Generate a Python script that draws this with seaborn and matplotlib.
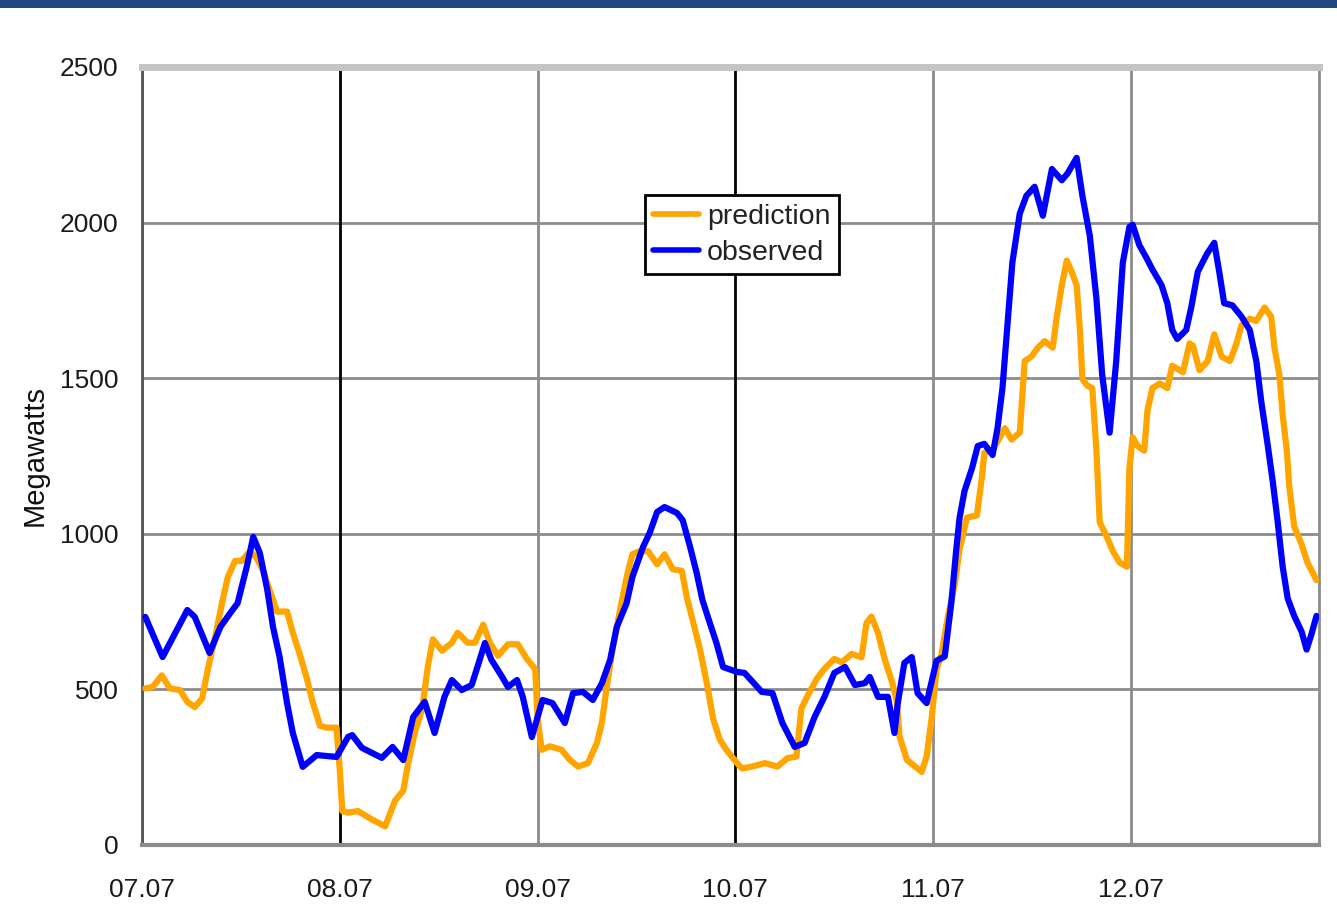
import pandas as pd
import matplotlib.pyplot as plt
import seaborn as sns
from matplotlib.patches import Rectangle

# --- data (hours since 07.07 00:00, megawatts) ---
pred_hours = [0.4, 1.3, 2.4, 3.4, 4.6, 5.5, 6.4, 7.3, 8.0, 8.9, 9.7, 10.4, 11.3, 12.1, 13.1, 13.9,
              14.7, 15.5, 16.4, 17.6, 18.3, 19.2, 20.0, 20.7, 21.6, 22.4, 23.6, 24.0, 24.3, 25.0,
              26.2, 27.9, 29.5, 30.7, 31.7, 32.3, 33.1, 34.0, 34.7, 35.3, 36.4, 37.6, 38.3, 39.5,
              40.4, 41.4, 42.2, 43.2, 44.4, 45.6, 46.7, 47.7, 48.0, 48.5, 49.5, 50.9, 51.9, 52.9,
              54.1, 55.2, 55.8, 56.4, 57.1, 58.0, 58.8, 59.5, 60.4, 61.4, 62.5, 63.4, 64.4, 65.5,
              66.1, 66.8, 67.7, 68.5, 69.3, 70.1, 70.9, 72.2, 72.8, 74.0, 75.6, 77.1, 78.3, 79.4,
              80.0, 80.8, 81.9, 82.8, 84.0, 84.9, 86.1, 87.3, 87.9, 88.5, 89.3, 90.1, 91.0, 91.6,
              91.9, 92.8, 93.8, 94.6, 95.2, 95.8, 96.4, 97.0, 97.8, 98.6, 99.2, 100.1, 101.3,
              101.9, 102.2, 103.1, 103.8, 104.7, 105.5, 106.5, 107.1, 107.9, 108.7, 109.5, 110.5,
              111.0, 111.6, 112.2, 112.8, 113.4, 113.8, 114.1, 114.7, 115.3, 115.8, 116.2, 117.0,
              117.8, 118.6, 119.5, 119.8, 120.2, 120.8, 121.6, 122.0, 122.6, 123.5, 124.4, 125.0,
              126.3, 127.1, 127.5, 128.3, 129.3, 130.1, 131.0, 132.0, 132.8, 133.4, 134.4, 135.2,
              136.2, 137.0, 137.4, 138.0, 138.4, 138.9, 139.2, 139.8, 140.7, 141.4, 142.5]
pred_mw = [503, 508, 545, 503, 498, 460, 443, 471, 566, 671, 776, 860, 913, 913, 944, 923,
           881, 818, 750, 750, 682, 608, 535, 460, 383, 377, 377, 241, 109, 104,
           109, 82, 60, 142, 175, 263, 361, 438, 577, 661, 624, 650, 682, 650,
           650, 708, 650, 608, 645, 645, 598, 566, 406, 306, 317, 306, 274, 252,
           263, 328, 394, 510, 629, 755, 860, 934, 944, 944, 902, 934, 886, 881,
           797, 724, 629, 524, 405, 339, 306, 263, 246, 252, 263, 252, 279, 284,
           438, 482, 535, 566, 598, 587, 614, 603, 713, 734, 682, 598, 524, 460,
           350, 274, 252, 235, 284, 405, 563, 613, 736, 836, 951, 1052, 1059,
           1181, 1260, 1267, 1296, 1339, 1303, 1325, 1555, 1569, 1598, 1619, 1598,
           1698, 1799, 1878, 1842, 1799, 1655, 1497, 1476, 1468, 1267, 1037, 994,
           944, 908, 894, 1210, 1310, 1282, 1267, 1397, 1468, 1483, 1468, 1540,
           1519, 1612, 1605, 1526, 1555, 1641, 1569, 1555, 1612, 1670, 1691, 1684,
           1727, 1698, 1598, 1511, 1382, 1267, 1152, 1023, 966, 908, 851]

obs_hours = [0.4, 2.5, 5.5, 6.4, 8.2, 9.5, 10.7, 11.6, 12.7, 13.5, 14.3, 15.2, 15.9, 16.7, 17.6,
             18.3, 19.5, 21.2, 23.6, 25.0, 25.5, 26.7, 29.1, 30.4, 31.7, 32.9, 34.3, 35.5, 36.7,
             37.6, 38.8, 40.0, 40.7, 41.6, 42.4, 43.7, 44.4, 45.5, 46.2, 47.3, 48.0, 48.6, 49.8,
             51.3, 52.3, 53.5, 54.7, 55.8, 56.8, 57.6, 58.8, 59.5, 60.8, 61.6, 62.5, 63.4, 64.9,
             65.6, 66.5, 67.3, 68.0, 68.9, 69.7, 70.5, 72.2, 73.1, 75.2, 76.5, 77.7, 79.2, 80.4,
             81.6, 82.8, 84.0, 85.3, 86.5, 87.7, 88.3, 89.3, 90.5, 91.3, 91.7, 92.5, 93.4, 94.1,
             95.2, 96.4, 97.4, 98.2, 98.8, 99.2, 99.8, 100.7, 101.4, 102.2, 103.2, 103.8, 104.4,
             105.0, 105.6, 106.5, 107.3, 108.3, 109.3, 110.4, 111.6, 112.3, 113.4, 114.1, 115.0,
             115.8, 116.5, 117.4, 118.2, 119.0, 119.8, 120.2, 121.0, 121.9, 122.6, 123.7, 124.4,
             125.0, 125.6, 126.7, 127.3, 128.1, 129.2, 130.1, 130.7, 131.3, 132.3, 133.4, 134.4,
             135.2, 135.8, 136.6, 137.2, 137.8, 138.4, 139.0, 139.8, 140.7, 141.3, 141.9, 142.5]
obs_mw = [733, 604, 755, 733, 617, 700, 745, 777, 893, 990, 938, 820, 700, 604, 456,
          360, 251, 289, 283, 347, 353, 312, 280, 315, 273, 411, 460, 360, 476,
          530, 498, 514, 572, 649, 595, 540, 508, 530, 476, 347, 411, 466, 456,
          392, 488, 492, 466, 520, 595, 700, 777, 861, 958, 1003, 1070, 1086, 1067,
          1044, 958, 874, 787, 713, 649, 572, 556, 553, 492, 488, 392, 315, 328,
          411, 476, 553, 572, 514, 520, 540, 476, 476, 360, 456, 585, 604, 488,
          456, 592, 606, 779, 951, 1052, 1138, 1210, 1282, 1289, 1253, 1339, 1468,
          1670, 1871, 2029, 2086, 2115, 2022, 2172, 2136, 2158, 2208, 2086, 1957,
          1756, 1511, 1325, 1554, 1871, 1986, 1993, 1928, 1885, 1849, 1799, 1741,
          1655, 1626, 1655, 1727, 1842, 1899, 1935, 1842, 1741, 1734, 1698, 1655,
          1555, 1425, 1282, 1167, 1037, 894, 793, 736, 685, 628, 678, 736]

day_labels = ["07.07", "08.07", "09.07", "10.07", "11.07", "12.07"]
y_ticks = [0, 500, 1000, 1500, 2000, 2500]

df = pd.concat([
    pd.DataFrame({"hour": pred_hours, "MW": pred_mw, "series": "prediction"}),
    pd.DataFrame({"hour": obs_hours, "MW": obs_mw, "series": "observed"}),
])

# --- style ---
sns.set_style("white")
plt.rcParams['font.family'] = ['Liberation Sans', 'DejaVu Sans']

fig = plt.figure(figsize=(13.37, 9.05), dpi=100)
ax = fig.add_axes([0.1062, 0.0663, 0.8803, 0.8597])

# navy band along the top edge of the slide
fig.patches.append(Rectangle((0, 0.991), 1, 0.009, transform=fig.transFigure,
                             facecolor="#22467f", edgecolor="none"))

# grid
for v in y_ticks[1:-1]:
    ax.axhline(v, color="#8c8c8c", lw=2, zorder=1)
for i in range(len(day_labels)):
    black = day_labels[i] in ("08.07", "10.07")
    ax.axvline(i * 24, color="black" if black else "#8c8c8c", lw=2, zorder=1)

sns.lineplot(data=df, x="hour", y="MW", hue="series",
             hue_order=["prediction", "observed"],
             palette={"prediction": "#FFA500", "observed": "#0000FF"},
             linewidth=4.5, sort=False, ax=ax, zorder=3)

ax.set_xlim(0, 142.8)
ax.set_ylim(0, 2500)
ax.set_xticks([i * 24 for i in range(len(day_labels))])
ax.set_xticklabels(day_labels)
ax.set_yticks(y_ticks)
ax.set_xlabel("")
ax.set_ylabel("Megawatts", fontsize=21, labelpad=8, color="#111111")

ax.tick_params(axis="both", direction="out", length=6, width=1.5, color="#777777",
               labelsize=19, labelcolor="#1a1a1a")
ax.tick_params(axis="x", pad=18)
ax.tick_params(axis="y", pad=11)

ax.spines["left"].set_color("#555555")
ax.spines["left"].set_linewidth(2)
ax.spines["bottom"].set_color("#8c8c8c")
ax.spines["bottom"].set_linewidth(3)
ax.spines["right"].set_color("#8c8c8c")
ax.spines["right"].set_linewidth(2)
ax.spines["top"].set_color("#c4c4c4")
ax.spines["top"].set_linewidth(5)
ax.axhline(2500, color="#969696", lw=1.5, zorder=2, clip_on=False)

leg = ax.legend(loc="upper left", bbox_to_anchor=(0.427, 0.835), fontsize=20.5,
                frameon=True, fancybox=False, edgecolor="black", framealpha=1,
                handlelength=1.6, handletextpad=0.3, borderpad=0.3,
                labelspacing=0.35, borderaxespad=0)
leg.get_frame().set_linewidth(2)
for line in leg.get_lines():
    line.set_linewidth(4)
for t in leg.get_texts():
    t.set_color("#222222")

plt.savefig("out.png", dpi=100)
